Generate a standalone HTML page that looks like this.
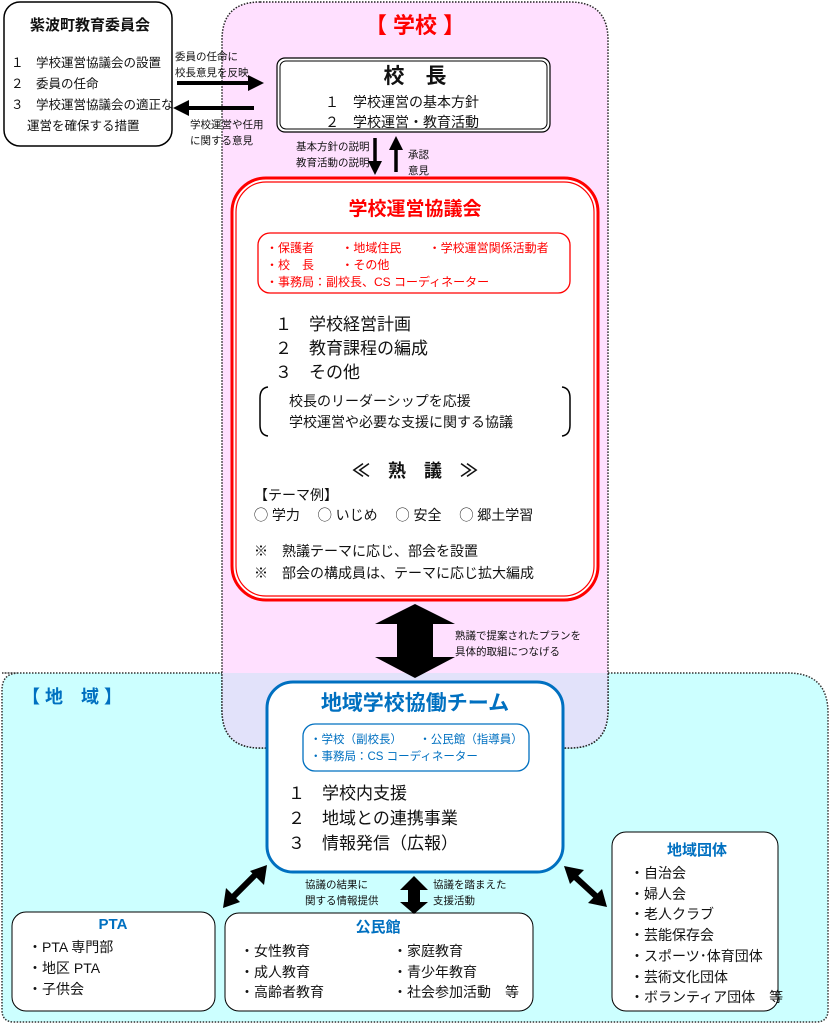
<!DOCTYPE html>
<html><head><meta charset="utf-8"><style>
body{margin:0;width:830px;height:1024px;position:relative;overflow:hidden;background:#fff;font-family:"Liberation Sans","Noto Sans CJK JP",sans-serif;color:#111}
.t{position:absolute;white-space:nowrap;line-height:1}
.b{font-weight:bold}
.c{transform:translateX(-50%)}
.red{color:#ff0000}.blue{color:#0070c0}
</style></head><body>
<svg width="830" height="1024" style="position:absolute;left:0;top:0">
<defs>
<clipPath id="cy"><path d="M2,673 H788 Q828,673 828,713 V1010 Q828,1022 816,1022 H14 Q2,1022 2,1010 V690 Q2,673 19,673Z"/></clipPath>
<marker id="ah" markerWidth="4" markerHeight="4" refX="2" refY="2" orient="auto" markerUnits="strokeWidth"><path d="M0,0 L4,2 L0,4Z" fill="#000"/></marker>
</defs>
<path d="M2,673 H788 Q828,673 828,713 V1010 Q828,1022 816,1022 H14 Q2,1022 2,1010 V690 Q2,673 19,673Z" fill="#ccffff" stroke="#333" stroke-width="1.5" stroke-dasharray="1.5 1.5"/>
<path d="M260,2 H570 Q608,2 608,40 V710 Q608,748 570,748 H260 Q222,748 222,710 V40 Q222,2 260,2Z" fill="#ffe0ff" stroke="#222" stroke-width="1.5" stroke-dasharray="1.5 1.5"/>
<path d="M260,2 H570 Q608,2 608,40 V710 Q608,748 570,748 H260 Q222,748 222,710 V40 Q222,2 260,2Z" fill="#e2e2fa" clip-path="url(#cy)" stroke="#222" stroke-width="1.5" stroke-dasharray="1.5 1.5"/>
<rect x="4" y="2" width="168" height="144" rx="16" fill="#fff" stroke="#000" stroke-width="1.5"/>
<rect x="277" y="58" width="273" height="74" rx="8" fill="#fff" stroke="#000" stroke-width="1.2"/>
<rect x="280" y="61" width="267" height="68" rx="6" fill="none" stroke="#000" stroke-width="1"/>
<rect x="232" y="178" width="366" height="422" rx="34" fill="#fff" stroke="#ff0000" stroke-width="3"/>
<rect x="236" y="182" width="358" height="414" rx="30" fill="none" stroke="#ff0000" stroke-width="1.2"/>
<rect x="258" y="233" width="312" height="60" rx="12" fill="none" stroke="#ff0000" stroke-width="1.3"/>
<path d="M268,387 Q260,388 260,398 V425 Q260,435 268,436" fill="none" stroke="#000" stroke-width="1.5"/>
<path d="M562,387 Q570,388 570,398 V425 Q570,435 562,436" fill="none" stroke="#000" stroke-width="1.5"/>
<rect x="267" y="682" width="296" height="190" rx="26" fill="#fff" stroke="#0070c0" stroke-width="3"/>
<rect x="303" y="724" width="226" height="47" rx="12" fill="none" stroke="#0070c0" stroke-width="1.3"/>
<rect x="12" y="912" width="203" height="99" rx="14" fill="#fff" stroke="#000" stroke-width="1"/>
<rect x="225" y="913" width="308" height="98" rx="14" fill="#fff" stroke="#000" stroke-width="1"/>
<rect x="612" y="832" width="166" height="179" rx="14" fill="#fff" stroke="#000" stroke-width="1"/>
<line x1="177" y1="83" x2="256" y2="83" stroke="#000" stroke-width="4" marker-end="url(#ah)"/>
<line x1="254" y1="108" x2="181" y2="108" stroke="#000" stroke-width="4" marker-end="url(#ah)"/>
<line x1="375" y1="138" x2="375" y2="168" stroke="#000" stroke-width="3.5" marker-end="url(#ah)"/>
<line x1="396" y1="172" x2="396" y2="143" stroke="#000" stroke-width="3.5" marker-end="url(#ah)"/>
<path d="M415,604 L455,624 H433 V657 H455 L415,678 L375,657 H397 V624 H375Z" fill="#000"/>
<path d="M414,876 L428,890 H420 V902 H428 L414,914 L400,902 H408 V890 H400Z" fill="#000"/>
<line x1="258" y1="872" x2="232" y2="898" stroke="#000" stroke-width="6"/>
<path d="M267,865 L264,885 L250,871Z M223,908 L226,888 L240,902Z" fill="#000"/>
<line x1="573" y1="875" x2="598" y2="898" stroke="#000" stroke-width="6"/>
<path d="M564,866 L584,870 L570,884Z M607,907 L588,903 L602,889Z" fill="#000"/>
</svg>

<div class="t b c" style="left:90px;top:18px;font-size:15px">紫波町教育委員会</div>
<div class="t" style="left:11px;top:53px;font-size:12.5px;line-height:21px">１　学校運営協議会の設置<br>２　委員の任命<br>３　学校運営協議会の適正な<br>　 運営を確保する措置</div>
<div class="t" style="left:175px;top:49px;font-size:10.5px;line-height:16px">委員の任命に<br>校長意見を反映</div>
<div class="t" style="left:190px;top:117px;font-size:10.5px;line-height:16px">学校運営や任用<br>に関する意見</div>
<div class="t b c red" style="left:415px;top:15px;font-size:22px">【 学校 】</div>
<div class="t b c" style="left:415px;top:66px;font-size:21px">校　長</div>
<div class="t" style="left:325px;top:92px;font-size:14px;line-height:20px">１　学校運営の基本方針<br>２　学校運営・教育活動</div>
<div class="t" style="left:296px;top:139px;font-size:10.5px;line-height:16px">基本方針の説明<br>教育活動の説明</div>
<div class="t" style="left:408px;top:147px;font-size:10.5px;line-height:16px">承認<br>意見</div>
<div class="t b c red" style="left:415px;top:200px;font-size:19px">学校運営協議会</div>
<div class="t red" style="left:266px;top:240px;font-size:12px;line-height:17px">・保護者　　 ・地域住民　　 ・学校運営関係活動者<br>・校　長　　 ・その他<br>・事務局：副校長、CS コーディネーター</div>
<div class="t" style="left:275px;top:313px;font-size:17px;line-height:24px">１　学校経営計画<br>２　教育課程の編成<br>３　その他</div>
<div class="t" style="left:289px;top:391px;font-size:14px;line-height:21px">校長のリーダーシップを応援<br>学校運営や必要な支援に関する協議</div>
<div class="t b c" style="left:415px;top:462px;font-size:18px">≪　熟　議　≫</div>
<div class="t" style="left:254px;top:488px;font-size:14px">【テーマ例】</div>
<div class="t" style="left:254px;top:508px;font-size:14px">◯ 学力　 ◯ いじめ　 ◯ 安全　 ◯ 郷土学習</div>
<div class="t" style="left:254px;top:540px;font-size:14px;line-height:22px">※　熟議テーマに応じ、部会を設置<br>※　部会の構成員は、テーマに応じ拡大編成</div>
<div class="t" style="left:455px;top:628px;font-size:10.5px;line-height:16px">熟議で提案されたプランを<br>具体的取組につなげる</div>
<div class="t b blue" style="left:22px;top:688px;font-size:18px">【 地　域 】</div>
<div class="t b c blue" style="left:415px;top:693px;font-size:21px">地域学校協働チーム</div>
<div class="t blue" style="left:310px;top:732px;font-size:11.5px;line-height:17px">・学校（副校長）　　・公民館（指導員）<br>・事務局：CS コーディネーター</div>
<div class="t" style="left:288px;top:781px;font-size:17px;line-height:25px">１　学校内支援<br>２　地域との連携事業<br>３　情報発信（広報）</div>
<div class="t" style="left:305px;top:877px;font-size:10.5px;line-height:16px">協議の結果に<br>関する情報提供</div>
<div class="t" style="left:433px;top:877px;font-size:10.5px;line-height:16px">協議を踏まえた<br>支援活動</div>
<div class="t b c blue" style="left:113px;top:917px;font-size:15px">PTA</div>
<div class="t" style="left:28px;top:937px;font-size:14px;line-height:21px">・PTA 専門部<br>・地区 PTA<br>・子供会</div>
<div class="t b c blue" style="left:378px;top:920px;font-size:15px">公民館</div>
<div class="t" style="left:240px;top:941px;font-size:14px;line-height:20.5px">・女性教育<br>・成人教育<br>・高齢者教育</div>
<div class="t" style="left:393px;top:941px;font-size:14px;line-height:20.5px">・家庭教育<br>・青少年教育<br>・社会参加活動　等</div>
<div class="t b c blue" style="left:697px;top:843px;font-size:15px">地域団体</div>
<div class="t" style="left:630px;top:863px;font-size:14px;line-height:20.7px">・自治会<br>・婦人会<br>・老人クラブ<br>・芸能保存会<br>・スポーツ･体育団体<br>・芸術文化団体<br>・ボランティア団体　等</div>
</body></html>
